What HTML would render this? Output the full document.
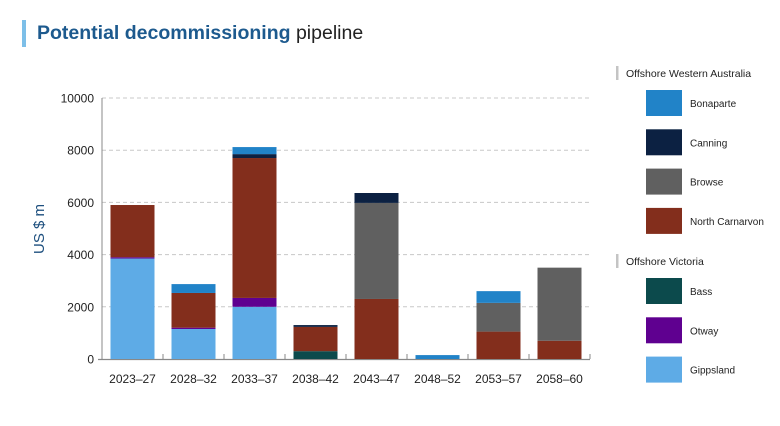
<!DOCTYPE html>
<html><head><meta charset="utf-8"><style>
body{margin:0;background:#fff;font-family:"Liberation Sans",sans-serif}
svg text{font-family:"Liberation Sans",sans-serif}
</style></head><body>
<svg id="c" width="780" height="421" xmlns="http://www.w3.org/2000/svg">
<rect x="22" y="20" width="4" height="27" fill="#7dbfe8"/>
<text x="37" y="39" font-size="19.5"><tspan fill="#1d5a8e" font-weight="bold">Potential decommissioning</tspan><tspan fill="#222"> pipeline</tspan></text>
<text transform="translate(44,229) rotate(-90)" text-anchor="middle" font-size="15" fill="#1d4f7e">US $ m</text>
<g id="plot"></g>
<g id="legend"></g>
</svg>
<script>
const categories=["2023–27","2028–32","2033–37","2038–42","2043–47","2048–52","2053–57","2058–60"];
const seriesNames=["Gippsland","Otway","Bass","North Carnarvon","Browse","Canning","Bonaparte"];
const gippsland=[3850,1150,2000,0,0,0,0,0];
const otway=[50,50,340,0,0,0,0,0];
const bass=[0,0,0,300,0,0,0,0];
const northCarnarvon=[2000,1330,5360,930,2300,0,1050,700];
const browse=[0,0,0,0,3680,0,1100,2800];
const canning=[0,0,150,70,380,0,0,0];
const bonaparte=[0,340,270,0,0,150,450,0];
const yTicks=[0,2000,4000,6000,8000,10000];
const colors=["#5eabe6","#5f0090","#0c4a4c","#832e1c","#606060","#0c2142","#2183c8"];
const series=[gippsland,otway,bass,northCarnarvon,browse,canning,bonaparte];
const NS="http://www.w3.org/2000/svg";
const x0=102,x1=590,y0=359,y1=98,yMax=10000;
const bw=(x1-x0)/categories.length, barW=44;
function yScale(v){return y0-(v/yMax)*(y0-y1);}
function xCenter(i){return x0+bw*(i+0.5);}
function mk(tag,attrs,parent){const e=document.createElementNS(NS,tag);for(const k in attrs)e.setAttribute(k,attrs[k]);parent.appendChild(e);return e;}
const plot=document.getElementById('plot');
yTicks.forEach(t=>{
  const y=yScale(t);
  if(t>0){const g=mk('line',{x1:x0,x2:x1,y1:y,y2:y,stroke:'#c8c8c8','stroke-dasharray':'4,3','stroke-width':1},plot);
  
  }
  const tx=mk('text',{x:94,y:y+4.5,'text-anchor':'end','font-size':12,fill:'#222'},plot);
  tx.textContent=t;
  
  
});
const ax=mk('line',{x1:x0,x2:x0,y1:y1,y2:y0,stroke:'#888','stroke-width':1},plot);


const bx=mk('line',{x1:x0-4,x2:x1,y1:y0+0.5,y2:y0+0.5,stroke:'#888','stroke-width':1.2},plot);


categories.forEach((c,i)=>{
  const tk=mk('line',{x1:x0+bw*(i+1),x2:x0+bw*(i+1),y1:y0,y2:y0-5,stroke:'#888'},plot);
  
  
  let acc=0;
  series.forEach((s,k)=>{
    const v=s[i]; if(!v)return;
    const yt=yScale(acc+v), yb=yScale(acc);
    const r=mk('rect',{x:xCenter(i)-barW/2,y:yt,width:barW,height:yb-yt,fill:colors[k]},plot);
    
    
    acc+=v;
  });
  const lt=mk('text',{x:xCenter(i),y:383,'text-anchor':'middle','font-size':12,fill:'#222'},plot);
  lt.textContent=c;
  
  
});
const leg=document.getElementById('legend');
const groups=[{title:"Offshore Western Australia",y:73,items:[6,5,4,3]},{title:"Offshore Victoria",y:261,items:[2,1,0]}];
groups.forEach(g=>{
  const b=mk('rect',{x:616,y:g.y-7,width:2.5,height:14,fill:'#c4c4c4'},leg);
  
  
  const t=mk('text',{x:626,y:g.y+4,'font-size':10.5,fill:'#222'},leg);
  t.textContent=g.title;
  
  
  g.items.forEach((k,j)=>{
    const yy=g.y+17+j*39.3;
    const sw=mk('rect',{x:646,y:yy,width:36,height:26,fill:colors[k]},leg);
    
    
    const lt=mk('text',{x:690,y:yy+17,'font-size':10,fill:'#222'},leg);
    lt.textContent=seriesNames[k];
    
    
  });
});
</script>
</body></html>
